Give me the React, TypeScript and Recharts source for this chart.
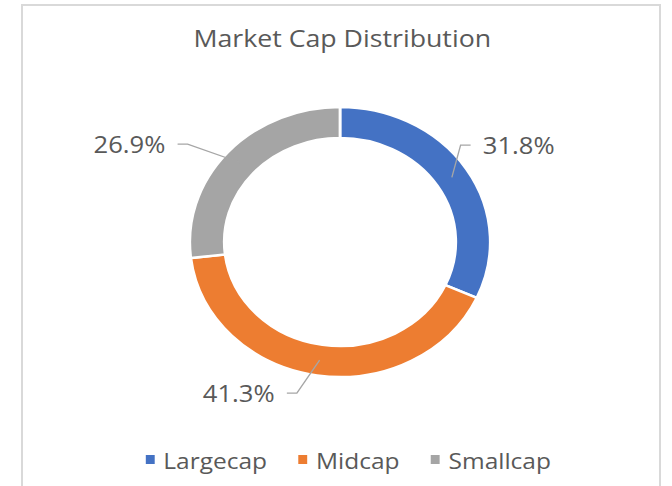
import { PieChart, Pie, Cell, Legend } from "recharts";

// slice names and shares (percent of total market cap)
const categories = ["Largecap", "Midcap", "Smallcap"];
const shares = [31.8, 41.3, 26.9];
const colors = ["#4472C4", "#ED7D31", "#A5A5A5"];

const data = categories.map((name, i) => ({ name, value: shares[i] }));

// the reference picture is an Excel chart stretched sideways, so the whole
// chart is drawn narrower and scaled back out horizontally
const STRETCH = 1.113;
const W = 672 / STRETCH;
const H = 486;
const FONT = "'Open Sans', sans-serif";
const TEXT = "#595959";

// Excel's "best fit" placement of the leader elbows, relative to a radial spot
const labelNudge: [number, number][] = [
  [-22, -13],
  [-15, -2],
  [-21, 5],
];

const RAD = Math.PI / 180;

function renderLabel(props: any) {
  const { cx, cy, midAngle, innerRadius, outerRadius, value, index } = props;
  const c = Math.cos(midAngle * RAD);
  const s = Math.sin(midAngle * RAD);
  const rMid = (innerRadius + outerRadius) / 2;
  const x0 = cx + rMid * c;
  const y0 = cy - rMid * s;
  const [dx, dy] = labelNudge[index] ?? [0, 0];
  const ex = cx + (outerRadius + 20) * c + dx;
  const ey = cy - (outerRadius + 20) * s + dy;
  const dir = c >= 0 ? 1 : -1;
  const lx = ex + dir * 9;
  return (
    <g key={`lbl-${index}`}>
      <polyline
        points={`${x0},${y0} ${ex},${ey} ${lx},${ey}`}
        fill="none"
        stroke="#A6A6A6"
        strokeWidth={1.2}
      />
      <text
        x={lx + dir * 11}
        y={ey + 9}
        textAnchor={dir > 0 ? "start" : "end"}
        fill={TEXT}
        fontSize={23}
        fontFamily={FONT}
      >
        {`${Number(value).toFixed(1)}%`}
      </text>
    </g>
  );
}

function LegendContent({ payload }: any) {
  const items = payload && payload.length ? payload : categories.map((c, i) => ({ value: c, color: colors[i] }));
  return (
    <div
      style={{
        display: "flex",
        justifyContent: "center",
        alignItems: "center",
        fontFamily: FONT,
        fontSize: 22,
        lineHeight: 1,
        color: TEXT,
      }}
    >
      {items.map((entry: any, i: number) => (
        <span
          key={entry.value}
          style={{ display: "inline-flex", alignItems: "center", marginLeft: i ? 28 : 0 }}
        >
          <span
            style={{
              display: "inline-block",
              width: 8,
              height: 9,
              background: entry.color ?? colors[i],
              marginRight: 8,
            }}
          />
          <span>{entry.value}</span>
        </span>
      ))}
    </div>
  );
}

export default function App() {
  return (
    <div style={{ position: "absolute", left: 0, top: 0, width: 672, height: H, overflow: "hidden", background: "#fff" }}>
      <div
        style={{
          position: "absolute",
          left: 21,
          top: 4,
          width: 640,
          height: 500,
          border: "2px solid #D9D9D9",
          boxSizing: "border-box",
        }}
      />
      <div
        style={{
          position: "absolute",
          left: 0,
          top: 0,
          width: W,
          height: H,
          transform: `scaleX(${STRETCH})`,
          transformOrigin: "0 0",
        }}
      >
        <div
          style={{
            position: "absolute",
            left: 0,
            top: 25.5,
            width: 615,
            textAlign: "center",
            fontFamily: FONT,
            fontSize: 24,
            lineHeight: 1,
            color: TEXT,
          }}
        >
          Market Cap Distribution
        </div>
        <PieChart
          width={W}
          height={H}
          margin={{ top: 0, right: 0, bottom: 0, left: 0 }}
          style={{ position: "absolute", left: 0, top: 0 }}
        >
          <Pie
            data={data}
            dataKey="value"
            nameKey="name"
            cx={305.5}
            cy={242}
            innerRadius={104}
            outerRadius={135}
            startAngle={90}
            endAngle={-270}
            stroke="#FFFFFF"
            strokeWidth={2.5}
            labelLine={false}
            label={renderLabel}
            isAnimationActive={false}
          >
            {data.map((d, i) => (
              <Cell key={d.name} fill={colors[i]} />
            ))}
          </Pie>
          <Legend
            content={LegendContent}
            wrapperStyle={{ position: "absolute", top: 448.5, left: 22, width: W - 22, height: 22 }}
          />
        </PieChart>
      </div>
    </div>
  );
}
